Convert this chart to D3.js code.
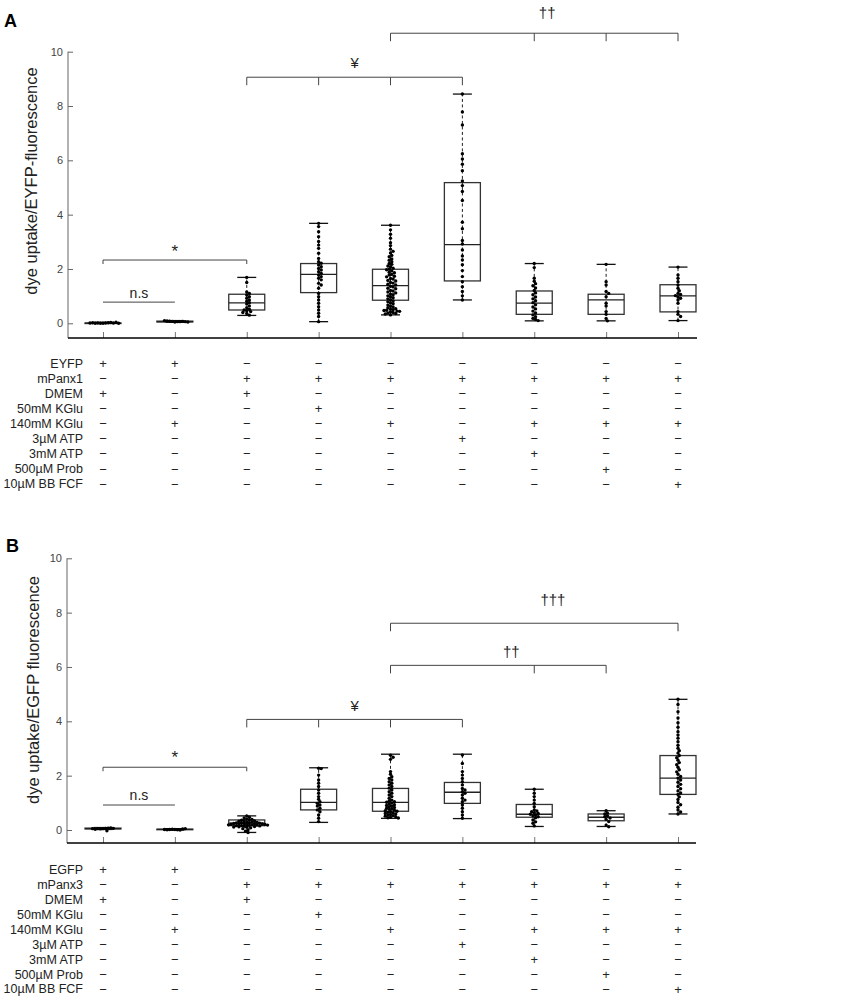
<!DOCTYPE html>
<html>
<head>
<meta charset="utf-8">
<script src="https://cdn.jsdelivr.net/npm/d3@7"></script>
<style>
  body { margin: 0; background: #fff; }
  text { font-family: "Liberation Sans", Arial, sans-serif; }
</style>
</head>
<body>
<svg id="fig" width="842" height="1000"></svg>
<script>
// ---- data ----
const groups = d3.range(9);
const yTicks = [0, 2, 4, 6, 8, 10];

const conditionsA = ["EYFP", "mPanx1", "DMEM", "50mM KGlu", "140mM KGlu", "3µM ATP", "3mM ATP", "500µM Prob", "10µM BB FCF"];
const conditionsB = ["EGFP", "mPanx3", "DMEM", "50mM KGlu", "140mM KGlu", "3µM ATP", "3mM ATP", "500µM Prob", "10µM BB FCF"];
// one string per condition row, one char per group
const signs = ["++-------", "--+++++++", "+-+------", "---+-----", "-+--+-+++", "-----+---", "------+--", "-------+-", "--------+"];

// box statistics, panel A
const q1A  = [0.00, 0.05, 0.49, 1.13, 0.85, 1.56, 0.33, 0.33, 0.42];
const medA = [0.01, 0.06, 0.75, 1.80, 1.39, 2.90, 0.74, 0.86, 1.01];
const q3A  = [0.01, 0.08, 1.07, 2.20, 1.99, 5.18, 1.19, 1.07, 1.42];
const loA  = [0.00, 0.04, 0.29, 0.06, 0.31, 0.86, 0.09, 0.09, 0.10];
const hiA  = [0.04, 0.10, 1.69, 3.68, 3.61, 8.44, 2.20, 2.17, 2.07];

// box statistics, panel B
const q1B  = [0.04, 0.01, 0.16, 0.74, 0.69, 0.98, 0.47, 0.34, 1.31];
const medB = [0.05, 0.02, 0.25, 1.02, 1.02, 1.39, 0.58, 0.47, 1.91];
const q3B  = [0.07, 0.03, 0.37, 1.50, 1.53, 1.75, 0.94, 0.59, 2.74];
const loB  = [0.02, 0.00, -0.09, 0.28, 0.43, 0.42, 0.13, 0.13, 0.59];
const hiB  = [0.09, 0.05, 0.52, 2.29, 2.79, 2.79, 1.50, 0.71, 4.81];

// individual cells, panel A
const dotsA = [
  [0.00, 0.01, 0.00, 0.02, 0.01, 0.03, 0.00, 0.01, 0.02, 0.04, 0.01, 0.00],
  [0.05, 0.06, 0.07, 0.06, 0.08, 0.07, 0.09, 0.06, 0.10, 0.05],
  [1.69, 1.50, 1.15, 1.10, 1.04, 0.98, 0.92, 0.86, 0.81, 0.76, 0.71, 0.64, 0.57, 0.52, 0.49, 0.46, 0.43, 0.40, 0.36, 0.30],
  [3.68, 3.56, 3.37, 3.19, 3.01, 2.88, 2.76, 2.58, 2.39, 2.27, 2.21, 2.15, 2.08, 2.02, 1.96, 1.90, 1.84, 1.78, 1.72,
   1.66, 1.60, 1.47, 1.41, 1.29, 1.10, 0.98, 0.86, 0.74, 0.61, 0.49, 0.37, 0.25, 0.06],
  [3.61, 3.44, 3.28, 3.13, 2.97, 2.86, 2.73, 2.65, 2.59, 2.50, 2.45, 2.37, 2.32, 2.27, 2.20, 2.17, 2.11, 2.08, 2.03, 1.99,
   1.97, 1.93, 1.88, 1.86, 1.80, 1.78, 1.73, 1.71, 1.65, 1.63, 1.58, 1.56, 1.50, 1.48, 1.44, 1.41, 1.36, 1.34, 1.29, 1.27,
   1.21, 1.19, 1.15, 1.12, 1.07, 1.05, 1.01, 0.97, 0.94, 0.90, 0.86, 0.82, 0.79, 0.75, 0.72, 0.67, 0.63, 0.60, 0.57, 0.54,
   0.52, 0.50, 0.48, 0.47, 0.45, 0.44, 0.42, 0.40, 0.38, 0.36, 0.34, 0.31],
  [8.44, 7.78, 7.30, 6.24, 6.05, 5.86, 5.62, 5.24, 5.07, 4.85, 4.52, 3.72, 3.48, 3.05, 2.92, 2.70, 2.48, 2.33, 2.16,
   1.94, 1.72, 1.53, 1.35, 1.17, 1.01, 0.86],
  [2.20, 2.05, 1.66, 1.55, 1.46, 1.38, 1.30, 1.21, 1.12, 1.05, 0.97, 0.90, 0.83, 0.76, 0.68, 0.60, 0.53, 0.45, 0.38,
   0.31, 0.24, 0.18, 0.14, 0.10],
  [2.17, 1.53, 1.41, 1.17, 1.10, 0.98, 0.74, 0.64, 0.43, 0.33, 0.18, 0.09],
  [2.07, 1.78, 1.66, 1.53, 1.41, 1.29, 1.20, 1.10, 1.06, 1.02, 0.97, 0.92, 0.86, 0.74, 0.43, 0.33, 0.25, 0.10]
];

// individual cells, panel B
const dotsB = [
  [0.05, 0.06, 0.04, 0.07, 0.05, 0.08, 0.03, 0.06, -0.03, 0.05],
  [0.02, 0.01, 0.03, 0.00, 0.02, 0.04, 0.01, 0.05, 0.02],
  [0.52, 0.47, 0.44, 0.41, 0.39, 0.37, 0.36, 0.34, 0.33, 0.32, 0.30, 0.29, 0.28, 0.27, 0.26, 0.26, 0.25, 0.24, 0.24,
   0.23, 0.22, 0.22, 0.21, 0.20, 0.20, 0.19, 0.19, 0.18, 0.18, 0.17, 0.16, 0.16, 0.15, 0.14, 0.13, 0.12, 0.11, 0.10,
   0.08, 0.05, 0.01, -0.04, -0.09],
  [2.27, 2.26, 2.02, 1.84, 1.72, 1.60, 1.47, 1.35, 1.23, 1.13, 1.04, 0.98, 0.92, 0.88, 0.80, 0.74, 0.67, 0.55, 0.43, 0.31],
  [2.75, 2.68, 2.60, 2.15, 2.05, 1.96, 1.90, 1.84, 1.78, 1.72, 1.66, 1.60, 1.54, 1.47, 1.41, 1.35, 1.29, 1.23, 1.17,
   1.10, 1.07, 1.04, 1.02, 0.99, 0.96, 0.93, 0.90, 0.88, 0.86, 0.83, 0.80, 0.78, 0.76, 0.73, 0.71, 0.69, 0.67, 0.65,
   0.63, 0.61, 0.59, 0.57, 0.55, 0.53, 0.51, 0.49, 0.47, 0.45, 0.44],
  [2.76, 2.45, 2.15, 2.02, 1.90, 1.78, 1.66, 1.53, 1.47, 1.41, 1.35, 1.29, 1.17, 1.10, 1.04, 0.92, 0.80, 0.67, 0.55, 0.43],
  [1.50, 1.35, 1.23, 1.10, 0.98, 0.86, 0.74, 0.70, 0.67, 0.64, 0.61, 0.58, 0.55, 0.52, 0.49, 0.45, 0.37, 0.30, 0.25, 0.15],
  [0.71, 0.62, 0.59, 0.52, 0.49, 0.44, 0.39, 0.31, 0.18, 0.12],
  [4.81, 4.62, 4.35, 4.12, 3.95, 3.78, 3.62, 3.50, 3.38, 3.25, 3.12, 3.01, 2.92, 2.83, 2.74, 2.66, 2.57, 2.48, 2.40,
   2.31, 2.22, 2.14, 2.05, 1.97, 1.91, 1.84, 1.76, 1.68, 1.60, 1.52, 1.44, 1.36, 1.31, 1.22, 1.12, 1.01, 0.93, 0.84,
   0.74, 0.66, 0.59]
];

// significance brackets: y = line level, ly = label baseline, at = label position (group units)
const bracketsA = [
  { label: "n.s", y: 0.78, ly: 0.93, from: 0, to: 1, ticks: [], at: 0.5 },
  { label: "*", y: 2.33, ly: 2.45, from: 0, to: 2, ticks: [0, 2], at: 1 },
  { label: "¥", y: 9.06, ly: 9.40, from: 2, to: 5, ticks: [2, 3, 4, 5], at: 3.5 },
  { label: "††", y: 10.68, ly: 11.24, from: 4, to: 8, ticks: [4, 6, 7, 8], at: 6.18 }
];
const bracketsB = [
  { label: "n.s", y: 0.92, ly: 1.10, from: 0, to: 1, ticks: [], at: 0.5 },
  { label: "*", y: 2.31, ly: 2.45, from: 0, to: 2, ticks: [0, 2], at: 1 },
  { label: "¥", y: 4.07, ly: 4.38, from: 2, to: 5, ticks: [2, 3, 4, 5], at: 3.5 },
  { label: "††", y: 6.06, ly: 6.37, from: 4, to: 7, ticks: [4, 6, 7], at: 5.68 },
  { label: "†††", y: 7.61, ly: 8.28, from: 4, to: 8, ticks: [4, 8], at: 6.26 }
];

// ---- drawing ----
const svg = d3.select("#fig");

// small deterministic dodge so dense clusters spread sideways instead of stacking
function dodge(values, y, gap) {
  const placed = [];
  return values.map(v => {
    const py = y(v);
    let dx = 0;
    for (let k = 0; k < 40; k++) {
      dx = (k % 2 ? 1 : -1) * Math.ceil(k / 2) * gap * 0.5;
      if (placed.every(p => Math.hypot(p[0] - dx, p[1] - py) >= gap)) break;
    }
    placed.push([dx, py]);
    return [dx, py];
  });
}

function drawPanel(cfg) {
  const g = svg.append("g");
  const y = d3.scaleLinear().domain([0, 10]).range([cfg.zeroY, cfg.topY]);
  const x = d3.scalePoint().domain(groups).range([103, 678]);
  const slot = x.step();

  // panel letter
  g.append("text")
    .attr("x", cfg.letterX).attr("y", cfg.letterY)
    .style("font-size", "18px").style("font-weight", "bold")
    .text(cfg.letter);

  // left axis, ticks point inward
  const ya = g.append("g")
    .attr("transform", `translate(${cfg.left},0)`)
    .call(d3.axisLeft(y).tickValues(yTicks).tickSizeInner(-5).tickSizeOuter(0).tickPadding(5));
  ya.select(".domain").remove();
  ya.selectAll(".tick line").attr("stroke", "#666");
  ya.selectAll(".tick text").attr("fill", "#444").style("font-size", "11px").style("font-family", "Liberation Sans, Arial, sans-serif");
  g.append("line")
    .attr("x1", cfg.left).attr("x2", cfg.left)
    .attr("y1", cfg.topY).attr("y2", cfg.axisY)
    .attr("stroke", "#666").attr("stroke-width", 1);

  // bottom axis, group ticks pointing up
  const xa = g.append("g")
    .attr("transform", `translate(0,${cfg.axisY})`)
    .call(d3.axisBottom(x).tickSizeInner(-6).tickSizeOuter(0).tickFormat(""));
  xa.select(".domain").remove();
  xa.selectAll(".tick line").attr("stroke", "#777");
  g.append("line")
    .attr("x1", cfg.left).attr("x2", cfg.right)
    .attr("y1", cfg.axisY).attr("y2", cfg.axisY)
    .attr("stroke", "#000").attr("stroke-width", 1.5);

  // y axis title
  g.append("text")
    .attr("transform", `translate(${cfg.titleX},${cfg.titleY}) rotate(-90)`)
    .attr("text-anchor", "middle")
    .attr("fill", "#222")
    .style("font-size", "16.5px")
    .text(cfg.title);

  // boxes
  const boxW = 36, capW = 19;
  const box = g.selectAll(".box").data(groups).enter().append("g").attr("class", "box");
  box.append("line")
    .attr("x1", i => x(i)).attr("x2", i => x(i))
    .attr("y1", i => y(cfg.lo[i])).attr("y2", i => y(cfg.hi[i]))
    .attr("stroke", "#222").attr("stroke-dasharray", "3,2.5");
  box.append("rect")
    .attr("x", i => x(i) - boxW / 2).attr("width", boxW)
    .attr("y", i => y(cfg.q3[i]))
    .attr("height", i => Math.max(y(cfg.q1[i]) - y(cfg.q3[i]), 0.5))
    .attr("fill", "none").attr("stroke", "#333").attr("stroke-width", 1.3);
  box.append("line")
    .attr("x1", i => x(i) - boxW / 2).attr("x2", i => x(i) + boxW / 2)
    .attr("y1", i => y(cfg.med[i])).attr("y2", i => y(cfg.med[i]))
    .attr("stroke", "#222").attr("stroke-width", 1.3);
  ["lo", "hi"].forEach(k => {
    box.append("line")
      .attr("x1", i => x(i) - capW / 2).attr("x2", i => x(i) + capW / 2)
      .attr("y1", i => y(cfg[k][i])).attr("y2", i => y(cfg[k][i]))
      .attr("stroke", "#111").attr("stroke-width", 1.3);
  });

  // dots
  groups.forEach(i => {
    g.append("g").selectAll("circle")
      .data(dodge(cfg.dots[i], y, 2.6))
      .enter().append("circle")
      .attr("cx", d => x(i) + d[0])
      .attr("cy", d => d[1])
      .attr("r", 1.7)
      .attr("fill", "#000");
  });

  // significance brackets
  const sig = g.selectAll(".sig").data(cfg.brackets).enter().append("g").attr("class", "sig");
  sig.append("line")
    .attr("x1", b => x(b.from)).attr("x2", b => x(b.to))
    .attr("y1", b => y(b.y)).attr("y2", b => y(b.y))
    .attr("stroke", "#444").attr("stroke-width", 1);
  sig.each(function (b) {
    const drop = b.label === "*" ? 4 : 8;
    d3.select(this).selectAll(".drop").data(b.ticks).enter().append("line")
      .attr("x1", t => x(t)).attr("x2", t => x(t))
      .attr("y1", y(b.y)).attr("y2", y(b.y) + drop)
      .attr("stroke", "#444").attr("stroke-width", 1);
  });
  sig.append("text")
    .attr("x", b => x(0) + b.at * slot)
    .attr("y", b => y(b.ly))
    .attr("text-anchor", "middle")
    .attr("fill", "#222")
    .style("font-size", b => b.label === "*" ? "17px" : b.label === "n.s" ? "14px" : "15px")
    .text(b => b.label);

  // condition table
  const rows = g.selectAll(".row").data(cfg.conditions).enter().append("g")
    .attr("class", "row")
    .attr("transform", (d, r) => `translate(0,${cfg.tableTop + r * cfg.rowStep})`);
  rows.append("text")
    .attr("x", 83).attr("dy", "0.35em")
    .attr("text-anchor", "end")
    .attr("fill", "#222")
    .style("font-size", "12.5px")
    .text(d => d);
  rows.selectAll(".sign")
    .data((d, r) => signs[r].split(""))
    .enter().append("text")
    .attr("x", (s, i) => x(i)).attr("dy", "0.35em")
    .attr("text-anchor", "middle")
    .attr("fill", "#222")
    .style("font-size", "13px")
    .text(s => s === "+" ? "+" : "\u2212");
}

drawPanel({
  letter: "A", letterX: 4, letterY: 27,
  title: "dye uptake/EYFP-fluorescence", titleX: 37, titleY: 181,
  left: 68, right: 697, topY: 51.7, zeroY: 323.3, axisY: 338,
  tableTop: 363.3, rowStep: 15.1,
  conditions: conditionsA,
  q1: q1A, med: medA, q3: q3A, lo: loA, hi: hiA, dots: dotsA,
  brackets: bracketsA
});

drawPanel({
  letter: "B", letterX: 6, letterY: 552,
  title: "dye uptake/EGFP fluorescence", titleX: 39, titleY: 690,
  left: 67, right: 696, topY: 558.3, zeroY: 830, axisY: 843,
  tableTop: 869.5, rowStep: 14.95,
  conditions: conditionsB,
  q1: q1B, med: medB, q3: q3B, lo: loB, hi: hiB, dots: dotsB,
  brackets: bracketsB
});
</script>
</body>
</html>
